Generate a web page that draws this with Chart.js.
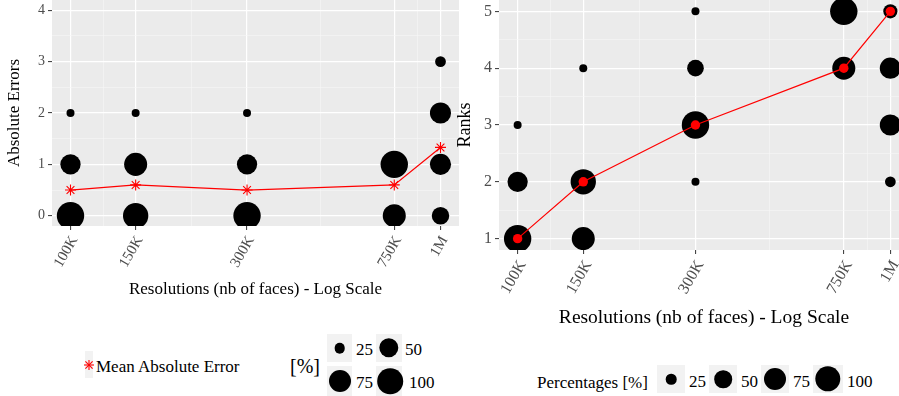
<!DOCTYPE html>
<html>
<head>
<meta charset="utf-8">
<script src="https://cdn.jsdelivr.net/npm/chart.js@4.4.1/dist/chart.umd.min.js"></script>
<style>
  html, body { margin: 0; padding: 0; width: 899px; height: 396px; overflow: hidden; background: #fff; }
  body { position: relative; font-family: "Liberation Serif", serif; }
  canvas { position: absolute; top: 0; }
  #errors { left: 0; }
  #ranks { left: 452px; }
  .key { position: absolute; background: #f2f2f2; }
  .dot { position: absolute; background: #000; border-radius: 50%; transform: translate(-50%, -50%); }
  .lbl { position: absolute; font-size: 17px; line-height: 1; color: #000; transform: translateY(-50%); white-space: nowrap; }
</style>
</head>
<body>
<canvas id="errors" width="460" height="300"></canvas>
<canvas id="ranks" width="458" height="330"></canvas>

<!-- left legend -->
<div class="key" style="left:85px;top:351px;width:8px;height:27px;"></div>
<svg style="position:absolute;left:83px;top:359px;" width="12" height="12" viewBox="-6 -6 12 12">
  <g stroke="#ff0000" stroke-width="1.1">
    <line x1="-5" y1="0" x2="5" y2="0"/><line x1="0" y1="-5" x2="0" y2="5"/>
    <line x1="-3.6" y1="-3.6" x2="3.6" y2="3.6"/><line x1="-3.6" y1="3.6" x2="3.6" y2="-3.6"/>
  </g>
</svg>
<div class="lbl" style="left:96px;top:366px;">Mean Absolute Error</div>
<div class="lbl" style="left:290px;top:366px;font-size:20px;">[%]</div>
<div class="key" style="left:327px;top:334px;width:25px;height:28px;"></div>
<div class="dot" style="left:339.5px;top:348px;width:10.6px;height:10.6px;"></div>
<div class="lbl" style="left:356px;top:349px;">25</div>
<div class="key" style="left:376px;top:334px;width:26px;height:28px;"></div>
<div class="dot" style="left:389px;top:348px;width:19.4px;height:19.4px;"></div>
<div class="lbl" style="left:405px;top:349px;">50</div>
<div class="key" style="left:327px;top:366px;width:25px;height:30px;"></div>
<div class="dot" style="left:339.5px;top:381px;width:22px;height:22px;"></div>
<div class="lbl" style="left:356px;top:382px;">75</div>
<div class="key" style="left:376px;top:366px;width:26px;height:30px;"></div>
<div class="dot" style="left:390px;top:381px;width:25.6px;height:25.6px;"></div>
<div class="lbl" style="left:409px;top:382px;">100</div>

<!-- right legend -->
<div class="lbl" style="left:537px;top:382px;">Percentages [%]</div>
<div class="key" style="left:657px;top:365px;width:28px;height:28px;"></div>
<div class="dot" style="left:671px;top:379px;width:10.6px;height:10.6px;"></div>
<div class="lbl" style="left:689px;top:381px;">25</div>
<div class="key" style="left:709px;top:365px;width:28px;height:28px;"></div>
<div class="dot" style="left:723px;top:379px;width:17.6px;height:17.6px;"></div>
<div class="lbl" style="left:741px;top:381px;">50</div>
<div class="key" style="left:761px;top:365px;width:28px;height:28px;"></div>
<div class="dot" style="left:775px;top:379px;width:22px;height:22px;"></div>
<div class="lbl" style="left:793px;top:381px;">75</div>
<div class="key" style="left:813px;top:365px;width:30px;height:28px;"></div>
<div class="dot" style="left:828px;top:379px;width:25.4px;height:25.4px;"></div>
<div class="lbl" style="left:847px;top:381px;">100</div>

<script>
// ---- data ----
const resolutions = [100000, 150000, 300000, 750000, 1000000];
const resolutionLabels = ['100K', '150K', '300K', '750K', '1M'];

// percentage of models per absolute error level, one value per resolution
const errorLevels = [0, 1, 2, 3];
const errPct0 = [60, 50, 60, 40, 22];
const errPct1 = [30, 40, 30, 60, 33];
const errPct2 = [10, 10, 10, 0, 33];
const errPct3 = [0, 0, 0, 0, 11];
const meanAbsError = [0.5, 0.6, 0.5, 0.6, 1.33];

// percentage of models per rank, one value per resolution
const rankLevels = [1, 2, 3, 4, 5];
const rankPct1 = [60, 40, 0, 0, 0];
const rankPct2 = [30, 50, 10, 0, 11];
const rankPct3 = [10, 0, 60, 0, 33];
const rankPct4 = [0, 10, 20, 40, 33];
const rankPct5 = [0, 0, 10, 60, 15];
const rankLine = [1, 2, 3, 4, 5];

const errTicks = [0, 1, 2, 3, 4];
const rankTicks = [1, 2, 3, 4, 5];

// ---- helpers ----
const FONT = '"Liberation Serif", serif';

// ggplot-like area scale for the bubble radius
function sizeScale(p) {
    return 4 + 9.7 * Math.sqrt(Math.max(p - 10, 0) / 50);
}

function buildBubbles(levels, rows) {
    const pts = [];
    levels.forEach(function (lv, li) {
        rows[li].forEach(function (p, i) {
            if (p > 0) pts.push({ x: resolutions[i], y: lv, r: sizeScale(p) });
        });
    });
    return pts;
}

// minor grid lines halfway between the majors (log space)
const xMinor = [];
for (let i = 0; i < resolutions.length - 1; i++) {
    xMinor.push(Math.sqrt(resolutions[i] * resolutions[i + 1]));
}
const xGrid = resolutions.concat(xMinor).sort(function (a, b) { return a - b; });

function yGrid(ticks) {
    const g = [];
    ticks.forEach(function (t, i) {
        g.push(t);
        if (i < ticks.length - 1) g.push((t + ticks[i + 1]) / 2);
    });
    return g;
}

const panelBg = {
    id: 'panelBg',
    beforeDraw(chart) {
        const a = chart.chartArea;
        const ctx = chart.ctx;
        ctx.save();
        ctx.fillStyle = '#ebebeb';
        ctx.fillRect(a.left, a.top, a.right - a.left, a.bottom - a.top);
        ctx.restore();
    }
};

function gridOpts(isMajor) {
    return {
        color: c => (c.tick && isMajor(c.tick.value)) ? '#ffffff' : '#f6f6f6',
        lineWidth: c => (c.tick && isMajor(c.tick.value)) ? 1.2 : 0.6,
        tickColor: c => (c.tick && isMajor(c.tick.value)) ? '#333333' : 'rgba(0,0,0,0)',
        tickLength: 4,
        tickWidth: 1,
        drawTicks: true
    };
}

function noPadding(s) {
    s.paddingTop = 0;
    s.paddingBottom = 0;
    s.paddingLeft = 0;
    s.paddingRight = 0;
}

function xAxis(fontSize, titleSize, boxHeight, shift) {
    return {
        type: 'logarithmic',
        min: Math.pow(10, 4.95),
        max: Math.pow(10, 6.05),
        afterBuildTicks: s => { s.ticks = xGrid.map(v => ({ value: v })); },
        afterFit: s => { s.height = boxHeight; noPadding(s); },
        border: { display: false },
        grid: gridOpts(v => resolutions.indexOf(v) >= 0),
        ticks: {
            autoSkip: false,
            minRotation: 60,
            maxRotation: 60,
            padding: 3,
            labelOffset: shift,
            color: '#4d4d4d',
            font: { family: FONT, size: fontSize },
            callback: function (v) {
                const i = resolutions.indexOf(v);
                return i < 0 ? '' : resolutionLabels[i];
            }
        },
        title: {
            display: true,
            text: 'Resolutions (nb of faces) - Log Scale',
            color: '#000',
            font: { family: FONT, size: titleSize },
            padding: { top: 0, bottom: 0 }
        }
    };
}

function yAxis(ticks, min, max, fontSize, boxWidth, title, titleSize, titlePad) {
    const grid = yGrid(ticks);
    return {
        min: min,
        max: max,
        afterBuildTicks: s => { s.ticks = grid.map(v => ({ value: v })); },
        afterFit: s => { s.width = boxWidth; noPadding(s); },
        border: { display: false },
        grid: gridOpts(v => ticks.indexOf(v) >= 0),
        ticks: {
            autoSkip: false,
            padding: 3,
            color: '#4d4d4d',
            font: { family: FONT, size: fontSize },
            callback: v => ticks.indexOf(v) >= 0 ? String(v) : ''
        },
        title: {
            display: true,
            text: title,
            color: '#000',
            font: { family: FONT, size: titleSize },
            padding: { top: titlePad, bottom: 0 }
        }
    };
}

Chart.defaults.animation = false;

// ---- left: absolute errors ----
new Chart(document.getElementById('errors'), {
    type: 'bubble',
    data: {
        datasets: [{
            type: 'line',
            data: resolutions.map((x, i) => ({ x: x, y: meanAbsError[i] })),
            borderColor: '#ff0000',
            borderWidth: 1.2,
            pointStyle: 'star',
            pointRadius: 5.5,
            pointBorderColor: '#ff0000',
            pointBorderWidth: 1.1,
            pointBackgroundColor: '#ff0000',
            tension: 0
        }, {
            data: buildBubbles(errorLevels, [errPct0, errPct1, errPct2, errPct3]),
            backgroundColor: '#000',
            borderWidth: 0,
            clip: 0
        }]
    },
    options: {
        responsive: false,
        layout: { autoPadding: false, padding: { top: 0, right: 1, left: 0, bottom: 0 } },
        plugins: { legend: { display: false }, tooltip: { enabled: false } },
        scales: {
            x: xAxis(15, 17, 74, 4),
            y: yAxis(errTicks, -0.2, 4.2, 14, 52, 'Absolute Errors', 17, 4)
        }
    },
    plugins: [panelBg]
});

// ---- right: ranks ----
new Chart(document.getElementById('ranks'), {
    type: 'bubble',
    data: {
        datasets: [{
            type: 'line',
            data: resolutions.map((x, i) => ({ x: x, y: rankLine[i] })),
            borderColor: '#ff0000',
            borderWidth: 1.2,
            pointRadius: 4.7,
            pointBorderWidth: 0,
            pointBackgroundColor: '#ff0000',
            tension: 0
        }, {
            data: buildBubbles(rankLevels, [rankPct1, rankPct2, rankPct3, rankPct4, rankPct5]),
            backgroundColor: '#000',
            borderWidth: 0,
            clip: 0
        }]
    },
    options: {
        responsive: false,
        layout: { autoPadding: false, padding: { top: 0, right: 1, left: 0, bottom: 0 } },
        plugins: { legend: { display: false }, tooltip: { enabled: false } },
        scales: {
            x: xAxis(16, 19.5, 80, 5),
            y: yAxis(rankTicks, 0.8, 5.2, 16, 47, 'Ranks', 18, 2)
        }
    },
    plugins: [panelBg]
});
</script>
</body>
</html>
